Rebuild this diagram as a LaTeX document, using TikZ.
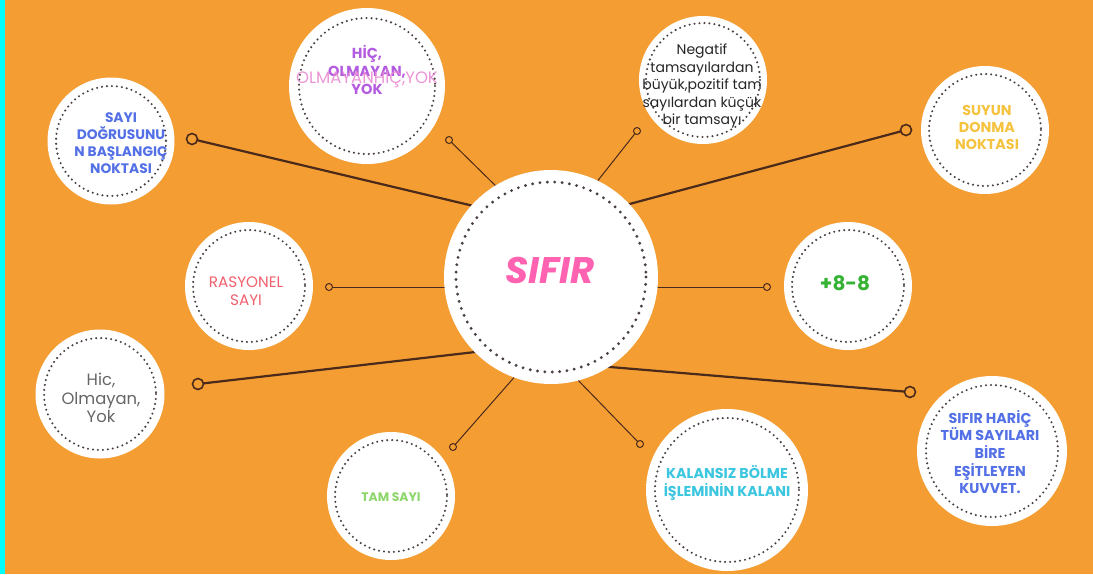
\documentclass[tikz,border=0pt]{standalone}
\usepackage{fontspec}
\setmainfont{Poppins}
\usetikzlibrary{calc}
\definecolor{bgor}{HTML}{F49D33}
\definecolor{cyanstrip}{HTML}{00FFFF}
\definecolor{brn}{HTML}{4A2A1A}
\definecolor{dotc}{HTML}{4A4040}
\definecolor{cpurple}{HTML}{B45CE0}
\definecolor{cpink}{HTML}{E98AD2}
\definecolor{cblue}{HTML}{5470E6}
\definecolor{cyel}{HTML}{F6C340}
\definecolor{cred}{HTML}{F0606E}
\definecolor{cgreen}{HTML}{34B334}
\definecolor{cgray}{HTML}{666666}
\definecolor{clgreen}{HTML}{8CD66A}
\definecolor{ccyan}{HTML}{3CC6E0}
\definecolor{csifir}{HTML}{FF62B0}
\pgfdeclarelayer{bg}
\pgfdeclarelayer{lines}
\pgfsetlayers{bg,lines,main}
\tikzset{
  bubble/.style={circle, fill=white, draw=none, inner sep=0pt, align=center},
  dots/.style={draw=dotc, line width=2.3pt, line cap=round, dash pattern=on 0pt off 5pt},
  bigdots/.style={draw=dotc, line width=3.2pt, line cap=round, dash pattern=on 0pt off 7.4pt},
  thick conn/.style={draw=brn, line width=2.2pt},
  thin conn/.style={draw=brn, line width=1pt},
  endbig/.style={circle, draw=brn, line width=1.6pt, fill=bgor, minimum size=11pt, inner sep=0pt},
  endsmall/.style={circle, draw=brn, line width=1pt, fill=bgor, minimum size=7pt, inner sep=0pt},
  lbl/.style={align=center, inner sep=0pt}
}
\begin{document}
\begin{tikzpicture}[x=1pt,y=-1pt]
\begin{pgfonlayer}{bg}
\fill[bgor] (0,0) rectangle (1093,574);
\fill[cyanstrip] (0,0) rectangle (5,574);
\end{pgfonlayer}
\useasboundingbox (0,0) rectangle (1093,574);

% central node
\node[bubble, minimum size=214pt] (sifir) at (551,277) {};
\draw[bigdots] (sifir.center) circle (95);
\node[lbl, text=csifir, font=\fontsize{37}{42}\selectfont\bfseries\itshape] (sifirlbl) at (550,270) {SIFIR};

% outer bubbles
\node[bubble, minimum size=156pt] (hic1) at (367,86) {};
\draw[dots] (hic1.center) circle (68);
\node[lbl, text=cpurple, font=\fontsize{14.5}{18}\selectfont\bfseries] (hic1lbl) at (367,70) {HİÇ,\\OLMAYAN,\\YOK};
\node[lbl, text=cpink, font=\fontsize{16.5}{18}\selectfont, opacity=0.9] (hic1over) at (367,78) {OLMAYANHİÇ,YOK};

\node[bubble, minimum size=128pt] (neg) at (703,80) {};
\draw[dots] (neg.center) circle (57);
\node[lbl, text=black!85, font=\fontsize{14}{17.5}\selectfont] (neglbl) at (702,86) {Negatif\\tamsayılardan\\büyük,pozitif tam\\sayılardan küçük\\bir tamsayı};

\node[bubble, minimum size=127pt] (sayi) at (111,141) {};
\draw[dots] (sayi.center) circle (55);
\node[lbl, text=cblue, font=\fontsize{13.8}{16.8}\selectfont\bfseries] (sayilbl) at (121,143) {SAYI\\DOĞRUSUNU\\N BAŞLANGIÇ\\NOKTASI};

\node[bubble, minimum size=128pt] (suyun) at (985,130) {};
\draw[dots] (suyun.center) circle (56);
\node[lbl, text=cyel, font=\fontsize{14.3}{17}\selectfont\bfseries] (suyunlbl) at (987,127) {SUYUN\\DONMA\\NOKTASI};

\node[bubble, minimum size=128pt] (ras) at (249,286) {};
\draw[dots] (ras.center) circle (56);
\node[lbl, text=cred, font=\fontsize{15.2}{17.5}\selectfont] (raslbl) at (246,291) {RASYONEL\\SAYI};

\node[bubble, minimum size=128pt] (pm) at (848,286) {};
\draw[dots] (pm.center) circle (56);
\node[lbl, text=cgreen, font=\fontsize{20}{24}\selectfont\bfseries] (pmlbl) at (845,283) {+8-8};

\node[bubble, minimum size=129pt] (hic2) at (100,394) {};
\draw[dots] (hic2.center) circle (56);
\node[lbl, text=cgray, font=\fontsize{16.4}{18.5}\selectfont] (hic2lbl) at (101,398) {Hic,\\Olmayan,\\Yok};

\node[bubble, minimum size=150pt] (haric) at (992,451) {};
\draw[dots] (haric.center) circle (66);
\node[lbl, text=cblue, font=\fontsize{14.3}{17.6}\selectfont\bfseries] (hariclbl) at (990,452) {SIFIR HARİÇ\\TÜM SAYILARI\\BİRE\\EŞİTLEYEN\\KUVVET.};

\node[bubble, minimum size=128pt] (tam) at (391,496) {};
\draw[dots] (tam.center) circle (56);
\node[lbl, text=clgreen, font=\fontsize{12.4}{14}\selectfont\bfseries] (tamlbl) at (391,497) {TAM SAYI};

\node[bubble, minimum size=162pt] (kal) at (727,490) {};
\draw[dots] (kal.center) circle (72);
\node[lbl, text=ccyan, font=\fontsize{14.3}{18}\selectfont\bfseries] (kallbl) at (727,483) {KALANSIZ BÖLME\\İŞLEMİNİN KALANI};

% connector inner ends
\coordinate (i1) at (482,208);
\coordinate (i2) at (622,206);
\coordinate (i3) at (484,351);
\coordinate (i4) at (598,366);
\coordinate (i5) at (502,192);
\coordinate (i6) at (592,188);
\coordinate (i7) at (454,287);
\coordinate (i8) at (650,287);
\coordinate (i9) at (518,373);
\coordinate (i10) at (574,376);

% end markers
\node[endbig] (e1) at (192,139) {};
\node[endbig] (e2) at (906,130) {};
\node[endbig] (e3) at (198,384) {};
\node[endbig] (e4) at (910,392) {};
\node[endsmall] (e5) at (449,140) {};
\node[endsmall] (e6) at (637,131) {};
\node[endsmall] (e7) at (329,287) {};
\node[endsmall] (e8) at (767,287) {};
\node[endsmall] (e9) at (453,447) {};
\node[endsmall] (e10) at (640,444) {};

\begin{pgfonlayer}{lines}
\draw[thick conn] (e1.center) -- (i1);
\draw[thick conn] (e2.center) -- (i2);
\draw[thick conn] (e3.center) -- (i3);
\draw[thick conn] (e4.center) -- (i4);
\draw[thin conn] (e5.center) -- (i5);
\draw[thin conn] (e6.center) -- (i6);
\draw[thin conn] (e7.center) -- (i7);
\draw[thin conn] (e8.center) -- (i8);
\draw[thin conn] (e9.center) -- (i9);
\draw[thin conn] (e10.center) -- (i10);
\end{pgfonlayer}
\end{tikzpicture}
\end{document}
